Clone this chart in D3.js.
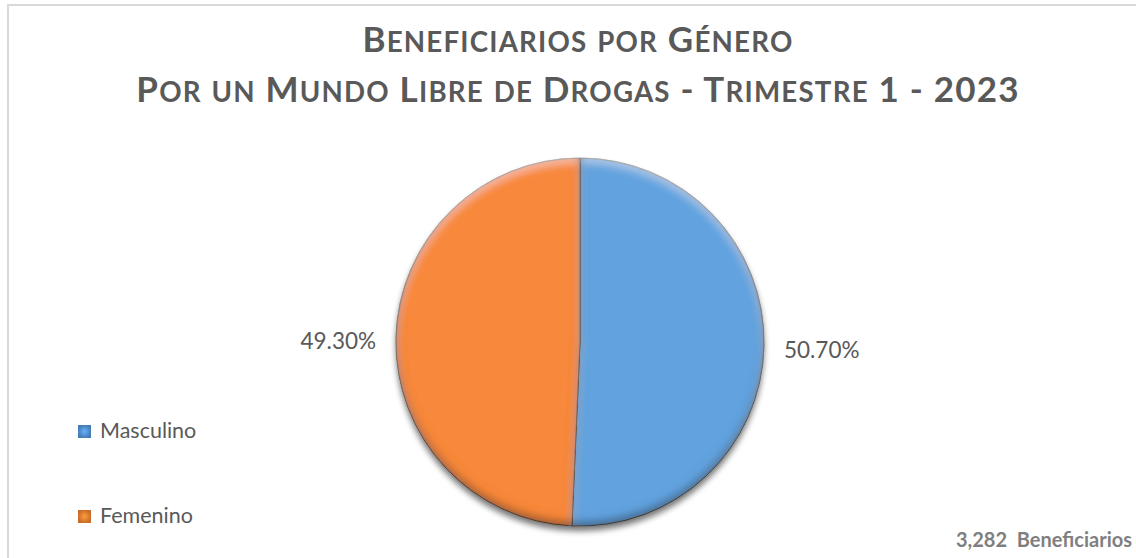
<!DOCTYPE html>
<html>
<head>
<meta charset="utf-8">
<script src="https://cdn.jsdelivr.net/npm/d3@7"></script>
<style>
body { margin: 0; background: #fff; }
text { font-family: Lato, "Open Sans", sans-serif; }
</style>
</head>
<body>
<div id="chart"></div>
<script>
var width = 1136, height = 558;

var titleLines = ["Beneficiarios por Género", "Por un Mundo Libre de Drogas - Trimestre 1 - 2023"];
var categories = ["Masculino", "Femenino"];
var values = [50.70, 49.30];
var colors = ["#62a3df", "#f8883a"];
var legendColors = ["#4d8ac8", "#e07a2e"];
var totalLabel = "3,282  Beneficiarios";

var svg = d3.select("#chart").append("svg")
    .attr("width", width).attr("height", height);

var defs = svg.append("defs");

// bevel look for each slice
var bevel = defs.append("filter").attr("id", "bevel")
    .attr("x", "-10%").attr("y", "-10%").attr("width", "120%").attr("height", "120%");
bevel.append("feGaussianBlur").attr("in", "SourceAlpha").attr("stdDeviation", 5).attr("result", "blur");
bevel.append("feOffset").attr("in", "blur").attr("dy", -4).attr("result", "blurUp");
bevel.append("feComposite").attr("in", "SourceAlpha").attr("in2", "blurUp")
    .attr("operator", "arithmetic").attr("k2", 1).attr("k3", -1).attr("result", "edgeDark");
bevel.append("feFlood").attr("flood-color", "#000").attr("flood-opacity", 0.75);
bevel.append("feComposite").attr("in2", "edgeDark").attr("operator", "in").attr("result", "dark");
bevel.append("feOffset").attr("in", "blur").attr("dy", 4).attr("result", "blurDown");
bevel.append("feComposite").attr("in", "SourceAlpha").attr("in2", "blurDown")
    .attr("operator", "arithmetic").attr("k2", 1).attr("k3", -1).attr("result", "edgeLight");
bevel.append("feFlood").attr("flood-color", "#fff").attr("flood-opacity", 0.45);
bevel.append("feComposite").attr("in2", "edgeLight").attr("operator", "in").attr("result", "light");
var merge = bevel.append("feMerge");
merge.append("feMergeNode").attr("in", "SourceGraphic");
merge.append("feMergeNode").attr("in", "light");
merge.append("feMergeNode").attr("in", "dark");

var shadow = defs.append("filter").attr("id", "shadow")
    .attr("x", "-20%").attr("y", "-20%").attr("width", "140%").attr("height", "140%");
shadow.append("feGaussianBlur").attr("stdDeviation", 3);

// legend swatch gradients
legendColors.forEach(function(c, i) {
    var g = defs.append("radialGradient").attr("id", "sw" + i);
    g.append("stop").attr("offset", "0%").attr("stop-color", d3.color(c).brighter(0.7));
    g.append("stop").attr("offset", "100%").attr("stop-color", d3.color(c).darker(0.3));
});

// chart frame
svg.append("rect")
    .attr("x", 8).attr("y", 5).attr("width", width + 20).attr("height", height + 20)
    .attr("fill", "none").attr("stroke", "#d9d9d9").attr("stroke-width", 2);

// title in small caps
function smallCaps(sel, str, big, small) {
    var runs = [];
    str.split("").forEach(function(ch) {
        var isSmall = ch !== ch.toUpperCase();
        var last = runs[runs.length - 1];
        if (last && last.small === isSmall) last.t += ch;
        else runs.push({ small: isSmall, t: ch });
    });
    sel.selectAll("tspan").data(runs).enter().append("tspan")
        .attr("font-size", function(d) { return d.small ? small : big; })
        .text(function(d) { return d.t.toUpperCase(); });
}

var titleY = [52, 102];
titleLines.forEach(function(line, i) {
    var t = svg.append("text")
        .attr("x", 578).attr("y", titleY[i])
        .attr("text-anchor", "middle")
        .attr("font-weight", "bold")
        .attr("fill", "#595959")
        .attr("letter-spacing", 1.2)
        .style("white-space", "pre");
    smallCaps(t, line, 35, 27.7);
});

// pie
var cx = 580, cy = 342, r = 184;
var pie = d3.pie().sort(null).value(function(d) { return d; });
var arcs = pie(values);
var arc = d3.arc().innerRadius(0).outerRadius(r);

var g = svg.append("g").attr("transform", "translate(" + cx + "," + cy + ")");

g.append("circle").attr("cx", 0).attr("cy", 5).attr("r", r)
    .attr("fill", "#000").attr("opacity", 0.55).attr("filter", "url(#shadow)");

g.selectAll("path.slice").data(arcs).enter().append("path")
    .attr("class", "slice")
    .attr("d", arc)
    .attr("fill", function(d, i) { return colors[i]; })
    .attr("stroke", "rgba(60,40,20,0.6)")
    .attr("stroke-width", 1)
    .attr("filter", "url(#bevel)");

var labelArc = d3.arc().innerRadius(r + 20).outerRadius(r + 20);
g.selectAll("text.pct").data(arcs).enter().append("text")
    .attr("class", "pct")
    .attr("transform", function(d) { return "translate(" + labelArc.centroid(d) + ")"; })
    .attr("dy", "0.5em")
    .attr("text-anchor", function(d) { return (d.startAngle + d.endAngle) / 2 < Math.PI ? "start" : "end"; })
    .attr("font-size", 22.5)
    .attr("fill", "#595959")
    .text(function(d) { return d.value.toFixed(2) + "%"; });

// legend
var legendY = d3.scalePoint().domain(categories).range([431, 516]);
var leg = svg.selectAll("g.legend").data(categories).enter().append("g")
    .attr("class", "legend")
    .attr("transform", function(d) { return "translate(78," + legendY(d) + ")"; });
leg.append("rect")
    .attr("x", 0).attr("y", -6).attr("width", 13).attr("height", 13)
    .attr("fill", function(d, i) { return "url(#sw" + i + ")"; });
leg.append("text")
    .attr("x", 22).attr("y", 7)
    .attr("font-size", 21.5)
    .attr("fill", "#595959")
    .text(function(d) { return d; });

// total note
svg.append("text")
    .attr("x", 1132).attr("y", 547)
    .attr("text-anchor", "end")
    .attr("font-size", 20)
    .attr("font-weight", "bold")
    .attr("fill", "#7f7f7f")
    .style("white-space", "pre")
    .text(totalLabel);
</script>
</body>
</html>
